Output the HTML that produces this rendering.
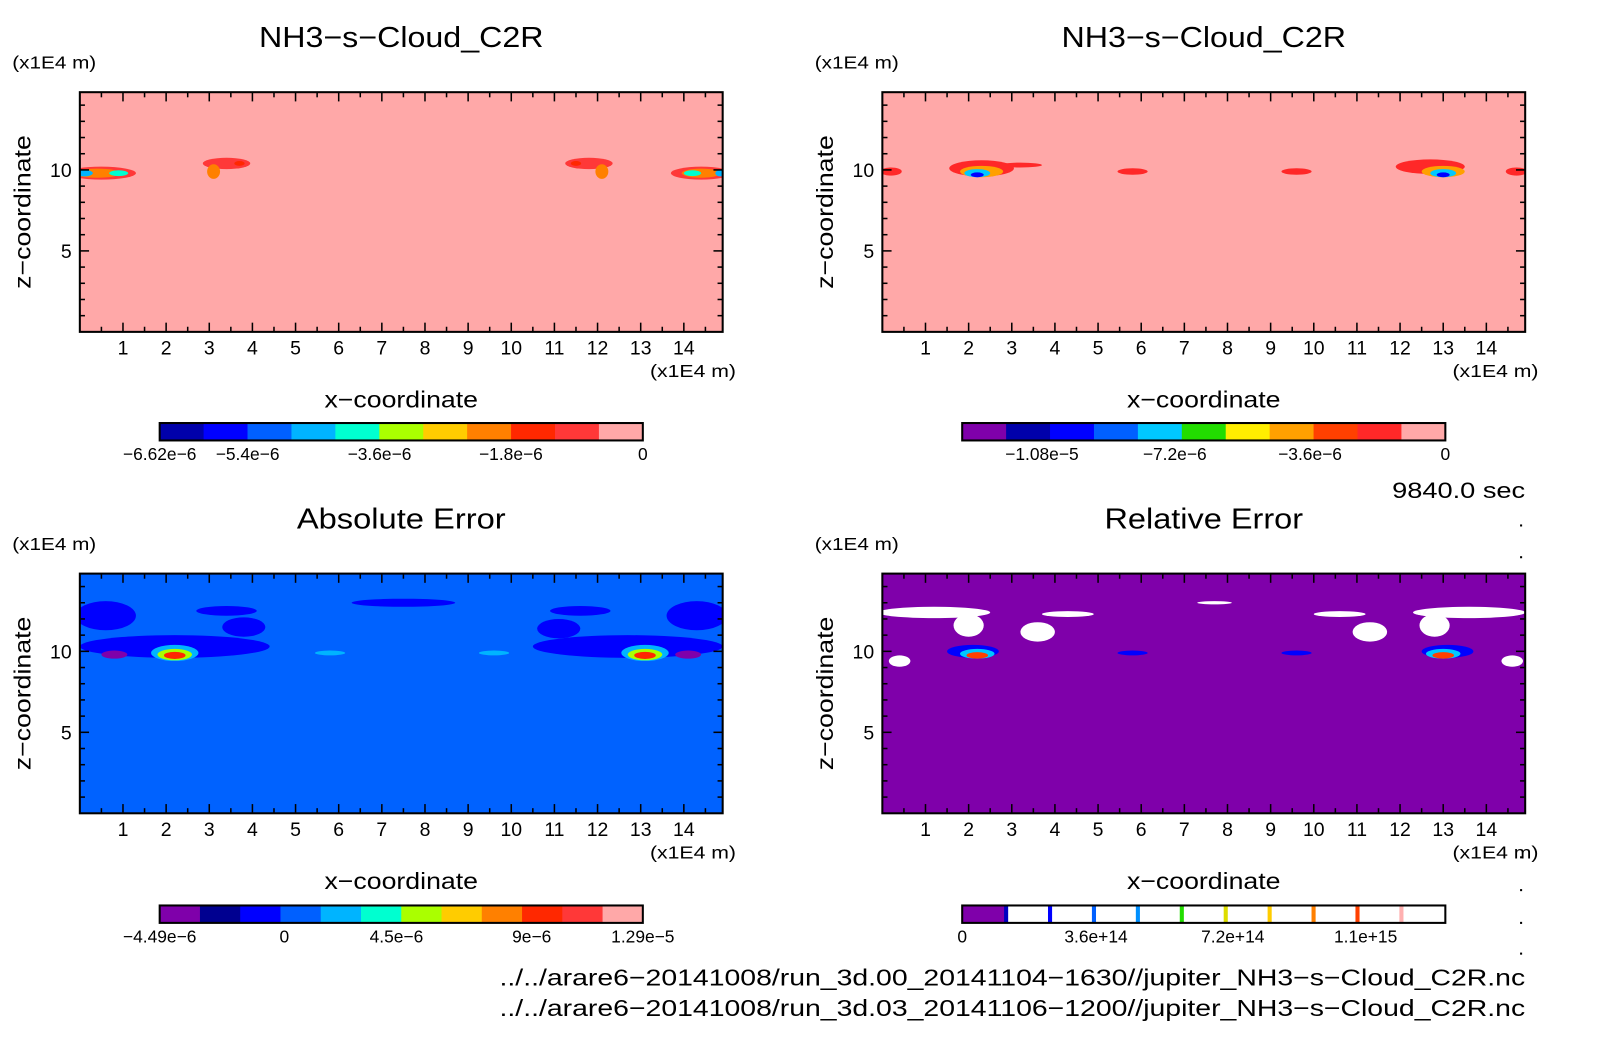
<!DOCTYPE html>
<html><head><meta charset="utf-8"><style>
html,body{margin:0;padding:0;background:#fff;}
svg{display:block;font-family:"Liberation Sans",sans-serif;}
</style></head><body>
<svg id="fig" width="1604" height="1054" viewBox="0 0 1567 1029" preserveAspectRatio="none" xmlns="http://www.w3.org/2000/svg">
<g id="root"></g>
</svg>
<script>
// ----- data -----
const xTicks = [1,2,3,4,5,6,7,8,9,10,11,12,13,14];
const zTicks = [5,10];
const xMax = 14.9, zMax = 14.8;
const titles = ["NH3\u2212s\u2212Cloud_C2R","NH3\u2212s\u2212Cloud_C2R","Absolute Error","Relative Error"];
const bgColors = ["#ffa8a8","#ffa8a8","#0062ff","#7f00aa"];
const cmapA = ["#0000aa","#0000ff","#0060ff","#00b4ff","#00ffd0","#aaff00","#ffcc00","#ff8000","#ff2800","#ff3838","#ffa8a8"];
const cmapB = ["#7f00aa","#0000aa","#0000ff","#0060ff","#00c8ff","#22dd00","#ffee00","#ffa000","#ff4000","#ff2828","#ffa8a8"];
const cmapC = ["#7f00aa","#000090","#0000ff","#0060ff","#00b4ff","#00ffd0","#aaff00","#ffcc00","#ff8000","#ff2800","#ff3838","#ffa8a8"];
const cmapDLines = ["#0000c0","#0000ff","#0060ff","#0090ff","#22dd00","#dddd00","#ffcc00","#ff8000","#ff4000","#ffb0b0"];
const cbLabelsA = ["\u22126.62e\u22126","\u22125.4e\u22126","\u22123.6e\u22126","\u22121.8e\u22126","0"];
const cbPosA = [0,0.182,0.455,0.727,1];
const cbLabelsB = ["\u22121.08e\u22125","\u22127.2e\u22126","\u22123.6e\u22126","0"];
const cbPosB = [0.165,0.44,0.72,1];
const cbLabelsC = ["\u22124.49e\u22126","0","4.5e\u22126","9e\u22126","1.29e\u22125"];
const cbPosC = [0,0.258,0.49,0.77,1];
const cbLabelsD = ["0","3.6e+14","7.2e+14","1.1e+15"];
const cbPosD = [0,0.277,0.56,0.835];
// blobs: [x, z, rx, rz, colorIndex]
const blobsA = [[0.5,9.8,0.8,0.4,9],[0.4,9.8,0.55,0.28,7],[0.1,9.8,0.2,0.2,3],[0.9,9.8,0.22,0.18,4],
 [3.4,10.4,0.55,0.35,9],[3.1,9.9,0.15,0.45,7],[3.7,10.4,0.12,0.15,8],
 [11.8,10.4,0.55,0.35,9],[12.1,9.9,0.15,0.45,7],[11.5,10.4,0.12,0.15,8],
 [14.4,9.8,0.7,0.4,9],[14.4,9.8,0.45,0.28,7],[14.2,9.8,0.2,0.18,4],[14.85,9.8,0.12,0.2,3]];
const blobsB = [[2.3,10.1,0.75,0.5,9],[2.3,9.9,0.5,0.35,7],[2.2,9.8,0.3,0.25,4],[2.2,9.7,0.15,0.15,2],[3.2,10.3,0.5,0.15,9],
 [5.8,9.9,0.35,0.2,9],[9.6,9.9,0.35,0.2,9],
 [12.7,10.2,0.8,0.45,9],[13,9.9,0.5,0.35,7],[13,9.8,0.3,0.25,4],[13,9.7,0.15,0.15,2],
 [0.2,9.9,0.25,0.25,9],[14.7,9.9,0.25,0.25,9]];
const blobsC = [[0.6,12.2,0.7,0.9,2],[3.4,12.5,0.7,0.3,2],[3.8,11.5,0.5,0.6,2],[7.5,13.0,1.2,0.25,2],[11.6,12.5,0.7,0.3,2],[11.1,11.4,0.5,0.6,2],[14.3,12.2,0.7,0.9,2],
 [2.2,10.3,2.2,0.7,2],[12.7,10.3,2.2,0.7,2],
 [2.2,9.9,0.55,0.5,4],[2.2,9.8,0.4,0.35,6],[2.2,9.75,0.25,0.22,9],
 [13.1,9.9,0.55,0.5,4],[13.1,9.8,0.4,0.35,6],[13.1,9.75,0.25,0.22,9],
 [5.8,9.9,0.35,0.15,4],[9.6,9.9,0.35,0.15,4],[0.8,9.8,0.3,0.25,0],[14.1,9.8,0.3,0.25,0]];
const blobsD = [[1.2,12.4,1.3,0.35,-1],[2.0,11.6,0.35,0.7,-1],[3.6,11.2,0.4,0.6,-1],[4.3,12.3,0.6,0.18,-1],[7.7,13.0,0.4,0.1,-1],
 [13.6,12.4,1.3,0.35,-1],[12.8,11.6,0.35,0.7,-1],[11.3,11.2,0.4,0.6,-1],[10.6,12.3,0.6,0.18,-1],[0.4,9.4,0.25,0.35,-1],[14.6,9.4,0.25,0.35,-1],
 [2.1,10.0,0.6,0.4,2],[2.2,9.85,0.4,0.3,4],[2.2,9.75,0.25,0.2,8],
 [13.1,10.0,0.6,0.4,2],[13,9.85,0.4,0.3,4],[13,9.75,0.25,0.2,8],
 [5.8,9.9,0.35,0.15,2],[9.6,9.9,0.35,0.15,2]];
// ----- drawing -----
const NS="http://www.w3.org/2000/svg";
const root=document.getElementById('root');
function mk(tag,attrs,parent){const e=document.createElementNS(NS,tag);for(const k in attrs)e.setAttribute(k,attrs[k]);(parent||root).appendChild(e);return e;}
function txt(s,x,y,size,anchor,parent,len){const t=mk('text',{x:x,y:y,'font-size':size,'text-anchor':anchor||'middle',fill:'#000'},parent);if(len){t.setAttribute('textLength',len);t.setAttribute('lengthAdjust','spacingAndGlyphs');}t.textContent=s;return t;}
const PW=628, PH=234;
const panels=[{ox:78,oy:90,blobs:blobsA,cmap:cmapA},{ox:862,oy:90,blobs:blobsB,cmap:cmapB},{ox:78,oy:560,blobs:blobsC,cmap:cmapC},{ox:862,oy:560,blobs:blobsD,cmap:cmapB}];
const titleLens=[278,278,204,194];
panels.forEach((p,i)=>{
  const g=mk('g',{});
  
  
  const sx=v=>p.ox+v/xMax*PW, sz=v=>p.oy+PH-v/zMax*PH;
  const bg=mk('rect',{x:p.ox,y:p.oy,width:PW,height:PH,fill:bgColors[i]},g);
  
  
  const cg=mk('g',{},g);
  const cp='clip'+i;
  const cl=mk('clipPath',{id:cp},g);mk('rect',{x:p.ox,y:p.oy,width:PW,height:PH},cl);
  cg.setAttribute('clip-path','url(#'+cp+')');
  p.blobs.forEach(b=>{
    const e=mk('ellipse',{cx:sx(b[0]),cy:sz(b[1]),rx:b[2]/xMax*PW,ry:b[3]/zMax*PH,fill:b[4]<0?'#ffffff':p.cmap[b[4]]},cg);
    
    
  });
  const fr=mk('rect',{x:p.ox,y:p.oy,width:PW,height:PH,fill:'none',stroke:'#000','stroke-width':2},g);
  
  
  for(let v=0.5;v<xMax;v+=0.5){const L=Number.isInteger(v)?9:5;
    mk('line',{x1:sx(v),x2:sx(v),y1:p.oy+PH,y2:p.oy+PH-L,stroke:'#000','stroke-width':1.5},g);
    mk('line',{x1:sx(v),x2:sx(v),y1:p.oy,y2:p.oy+L,stroke:'#000','stroke-width':1.5},g);}
  for(let v=1;v<zMax;v+=1){const L=zTicks.includes(v)?9:5;
    mk('line',{x1:p.ox,x2:p.ox+L,y1:sz(v),y2:sz(v),stroke:'#000','stroke-width':1.5},g);
    mk('line',{x1:p.ox+PW,x2:p.ox+PW-L,y1:sz(v),y2:sz(v),stroke:'#000','stroke-width':1.5},g);}
  xTicks.forEach(v=>{const t=txt(String(v),sx(v),p.oy+PH+22,19,'middle',g);});
  zTicks.forEach(v=>{const t=txt(String(v),p.ox-8,sz(v)+7,19,'end',g);});
  let t=txt(titles[i],p.ox+PW/2,p.oy-44,28,'middle',g,titleLens[i]);
  t=txt('(x1E4 m)',p.ox-66,p.oy-23,17,'start',g,82);
  t=txt('(x1E4 m)',p.ox+PW+13,p.oy+PH+44,17,'end',g,84);
  t=txt('x\u2212coordinate',p.ox+PW/2,p.oy+PH+74,23,'middle',g,150);
  t=txt('z\u2212coordinate',0,0,23,'middle',g,150);t.setAttribute('transform','translate('+(p.ox-48)+','+(p.oy+PH/2)+') rotate(-90)');
  
});
const cbs=[{x:156,y:413,cmap:cmapA,labels:cbLabelsA,pos:cbPosA},{x:940,y:413,cmap:cmapB,labels:cbLabelsB,pos:cbPosB},{x:156,y:884,cmap:cmapC,labels:cbLabelsC,pos:cbPosC},{x:940,y:884,cmap:null,labels:cbLabelsD,pos:cbPosD}];
const CW=472, CH=17;
cbs.forEach((c,i)=>{
  const g=mk('g',{});
  
  
  if(c.cmap){const n=c.cmap.length,w=CW/n;
    c.cmap.forEach((col,k)=>{mk('rect',{x:c.x+k*w,y:c.y,width:w+0.5,height:CH,fill:col},g);});
  } else {
    const w=CW/11;
    mk('rect',{x:c.x,y:c.y,width:w,height:CH,fill:'#7f00aa'},g);
    cmapDLines.forEach((col,k)=>{mk('rect',{x:c.x+(k+1)*w-2,y:c.y,width:4,height:CH,fill:col},g);});
  }
  mk('rect',{x:c.x,y:c.y,width:CW,height:CH,fill:'none',stroke:'#000','stroke-width':2},g);
  c.labels.forEach((s,k)=>{const t=txt(s,c.x+c.pos[k]*CW,c.y+36,17,'middle',g);});
});
let t=txt('9840.0 sec',1490,486,22,'end',null,130);
t=txt('../../arare6\u221220141008/run_3d.00_20141104\u22121630//jupiter_NH3\u2212s\u2212Cloud_C2R.nc',1490,962,23,'end',null,1002);
t=txt('../../arare6\u221220141008/run_3d.03_20141106\u22121200//jupiter_NH3\u2212s\u2212Cloud_C2R.nc',1490,992,23,'end',null,1002);
[512,543,836,868,900,930].forEach(y=>{mk('rect',{x:1485,y:y,width:2,height:2,fill:'#000'});});
</script>
</body></html>
